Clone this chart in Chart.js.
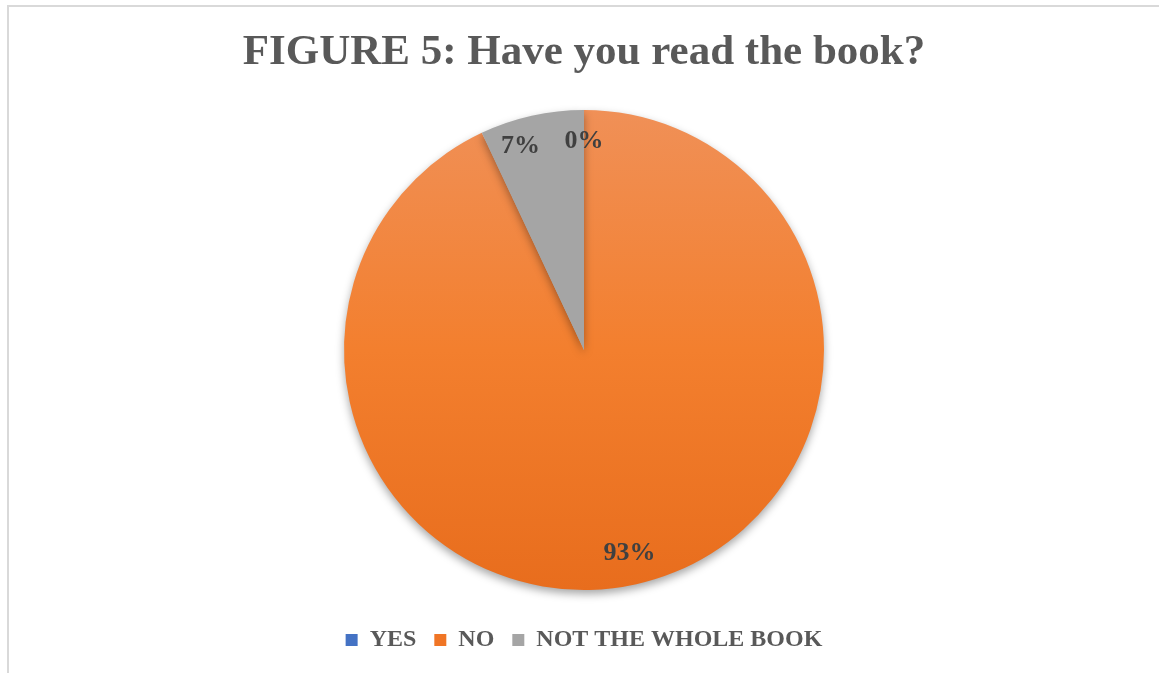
<!DOCTYPE html>
<html>
<head>
<meta charset="utf-8">
<script src="https://cdn.jsdelivr.net/npm/chart.js@4.4.0/dist/chart.umd.min.js"></script>
<style>
  html, body { margin:0; padding:0; background:#fff; }
  #wrap { position:relative; width:1159px; height:673px; overflow:hidden; }
  #frame { position:absolute; left:7px; top:5px; width:1200px; height:700px; border:2px solid #d9d9d9; box-sizing:border-box; }
  canvas { position:absolute; left:0; top:0; }
</style>
</head>
<body>
<div id="wrap">
  <div id="frame"></div>
  <canvas id="pieChart" width="1159" height="673"></canvas>
</div>
<script>
const titleText = 'FIGURE 5: Have you read the book?';
const categories = ['YES', 'NO', 'NOT THE WHOLE BOOK'];
const percents = [0, 93, 7];
const sliceColors = ['#4472c4', '#ed7d31', '#a5a5a5'];

const serif = '"Liberation Serif", "Times New Roman", serif';

function noGradient(chart){
  const a = chart.chartArea;
  if (!a) return sliceColors[1];
  const g = chart.ctx.createLinearGradient(0, a.top + 10, 0, a.bottom - 10);
  g.addColorStop(0, '#f09057');
  g.addColorStop(0.5, '#f37f2e');
  g.addColorStop(1, '#e86d1d');
  return g;
}

// soft shadow below the pie
const shadowPlugin = {
  id: 'pieShadow',
  beforeDatasetsDraw(chart){
    const ctx = chart.ctx;
    ctx.save();
    ctx.shadowColor = 'rgba(0,0,0,0.35)';
    ctx.shadowBlur = 8;
    ctx.shadowOffsetY = 4;
  },
  afterDatasetsDraw(chart){
    chart.ctx.restore();
  }
};

// percent labels inside the slices
const labelPlugin = {
  id: 'pctLabels',
  afterDatasetsDraw(chart){
    const ctx = chart.ctx;
    const meta = chart.getDatasetMeta(0);
    ctx.save();
    ctx.font = 'bold 26px ' + serif;
    ctx.fillStyle = '#404040';
    ctx.textAlign = 'center';
    ctx.textBaseline = 'middle';
    meta.data.forEach((arc, i) => {
      const mid = (arc.startAngle + arc.endAngle) / 2;
      const r = arc.outerRadius * 0.87;
      let x = arc.x + Math.cos(mid) * r;
      let y = arc.y + Math.sin(mid) * r;
      if (i === 2) x -= 18;
      ctx.fillText(percents[i] + '%', x, y);
    });
    ctx.restore();
  }
};

new Chart(document.getElementById('pieChart').getContext('2d'), {
  type: 'pie',
  data: {
    labels: categories,
    datasets: [{
      data: percents,
      backgroundColor: (c) => c.dataIndex === 1 ? noGradient(c.chart) : sliceColors[c.dataIndex],
      borderWidth: 0,
      radius: 240
    }]
  },
  options: {
    responsive: false,
    animation: false,
    layout: { padding: { left: 9, right: 0, top: 0, bottom: 11 } },
    plugins: {
      title: {
        display: true,
        text: titleText,
        color: '#595959',
        font: { family: serif, size: 43, weight: 'bold', lineHeight: 1.2 },
        padding: { top: 27, bottom: 21.4 }
      },
      legend: {
        position: 'bottom',
        // empty title only adds space above the items
        title: { display: true, text: '', padding: 0, font: { size: 10, lineHeight: 1 } },
        labels: {
          color: '#595959',
          font: { family: serif, size: 24, weight: 'bold' },
          boxWidth: 12,
          boxHeight: 12,
          padding: 18,
          generateLabels(chart){
            return categories.map((c, i) => ({
              text: c,
              fillStyle: i === 1 ? '#f07525' : sliceColors[i],
              strokeStyle: 'transparent',
              lineWidth: 0,
              fontColor: '#595959',
              index: i
            }));
          }
        }
      },
      tooltip: { enabled: false }
    }
  },
  plugins: [shadowPlugin, labelPlugin]
});
</script>
</body>
</html>
